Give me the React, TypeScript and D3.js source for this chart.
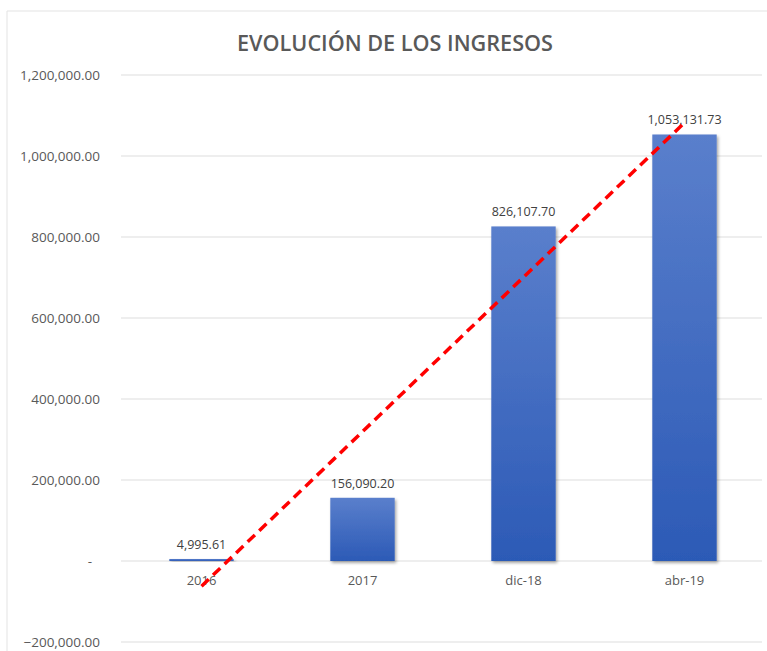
import React from "react";
import * as d3 from "d3";

const categories = ["2016", "2017", "dic-18", "abr-19"];
const values = [4995.61, 156090.2, 826107.7, 1053131.73];
const yTicks = [-200000, 0, 200000, 400000, 600000, 800000, 1000000, 1200000];
const title = "EVOLUCIÓN DE LOS INGRESOS";

const W = 767;
const H = 651;
const left = 121;
const right = 765;
const top = 75;
const bottom = 642;

const fmt = d3.format(",.2f");
const tickFmt = (v: number) => (v === 0 ? "-" : fmt(v));

export default function App() {
  const x = d3.scaleBand<string>().domain(categories).range([left, right]).paddingInner(0.6).paddingOuter(0.3);
  const y = d3.scaleLinear().domain([-200000, 1200000]).range([bottom, top]);

  // linear trendline (least squares over x = 1..n)
  const xs = values.map((_, i) => i + 1);
  const mx = d3.mean(xs)!;
  const my = d3.mean(values)!;
  const slope = d3.sum(xs.map((xi, i) => (xi - mx) * (values[i] - my))) / d3.sum(xs.map((xi) => (xi - mx) ** 2));
  const intercept = my - slope * mx;
  const trendPts: [number, number][] = categories.map((c, i) => [
    x(c)! + x.bandwidth() / 2,
    y(intercept + slope * (i + 1)),
  ]);
  const line = d3.line();
  const first = trendPts[0];
  const last = trendPts[trendPts.length - 1];

  return (
    <svg width={W} height={H} style={{ position: "absolute", left: 0, top: 0, background: "#fff" }}>
      <defs>
        <linearGradient id="barGrad" x1="0" y1="0" x2="0" y2="1">
          <stop offset="0%" stopColor="#5a7fcc" />
          <stop offset="100%" stopColor="#2c5ab6" />
        </linearGradient>
        <filter id="shadow" x="-20%" y="-20%" width="140%" height="140%">
          <feDropShadow dx="1.5" dy="2" stdDeviation="1.5" floodColor="#000" floodOpacity="0.35" />
        </filter>
      </defs>
      <rect x={0} y={0} width={W} height={H} fill="#fff" />
      <line x1={7} y1={11} x2={W} y2={11} stroke="#e3e3e3" strokeWidth={1} />
      <line x1={7} y1={11} x2={7} y2={H} stroke="#e3e3e3" strokeWidth={1} />
      <text
        x={395}
        y={51}
        textAnchor="middle"
        fontFamily="'Open Sans', sans-serif"
        fontWeight={600}
        fontSize={21}
        fill="#595959"
        textLength={316}
        lengthAdjust="spacingAndGlyphs"
      >
        {title}
      </text>
      {yTicks.map((t) => (
        <g key={t}>
          <line x1={left} x2={right - 3} y1={y(t)} y2={y(t)} stroke="#dedede" strokeWidth={1.2} />
          <text
            x={t === 0 ? 92 : 100}
            y={y(t)}
            dy="0.35em"
            textAnchor="end"
            fontFamily="'Open Sans', sans-serif"
            fontSize={13.5}
            fill="#595959"
          >
            {tickFmt(t)}
          </text>
        </g>
      ))}
      {categories.map((c, i) => (
        <g key={c}>
          <rect
            x={x(c)}
            y={y(values[i])}
            width={x.bandwidth()}
            height={Math.max(1.5, y(0) - y(values[i]))}
            fill="url(#barGrad)"
            filter="url(#shadow)"
          />
          <text
            x={x(c)! + x.bandwidth() / 2}
            y={y(values[i]) - 10}
            textAnchor="middle"
            fontFamily="'Open Sans', sans-serif"
            fontSize={12.5}
            fill="#404040"
          >
            {fmt(values[i])}
          </text>
          <text
            x={x(c)! + x.bandwidth() / 2}
            y={y(0) + 24}
            textAnchor="middle"
            fontFamily="'Open Sans', sans-serif"
            fontSize={13}
            fill="#595959"
          >
            {c}
          </text>
        </g>
      ))}
      <path
        d={line([first, last])!}
        fill="none"
        stroke="#ff0000"
        strokeWidth={3.5}
        strokeDasharray="10 6"
      />
    </svg>
  );
}
